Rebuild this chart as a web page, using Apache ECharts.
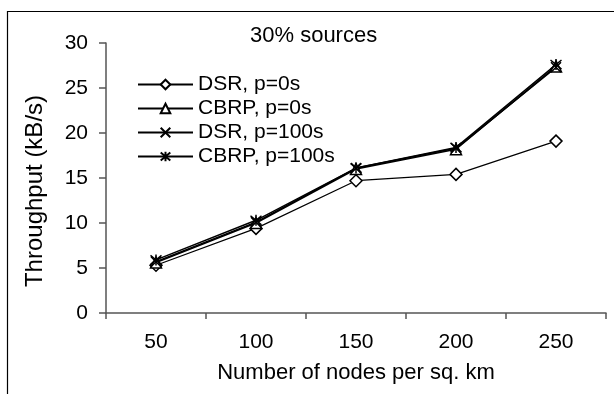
<!DOCTYPE html>
<html>
<head>
<meta charset="utf-8">
<script src="https://cdn.jsdelivr.net/npm/echarts@6/dist/echarts.min.js"></script>
<style>html,body{margin:0;padding:0;background:#fff}#c{width:614px;height:394px}</style>
</head>
<body>
<div id="c"></div>
<script>
var categories = ['50', '100', '150', '200', '250'];
var dsrP0 = [5.3, 9.4, 14.7, 15.4, 19.1];
var cbrpP0 = [5.6, 10.0, 16.0, 18.2, 27.4];
var dsrP100 = [5.7, 10.1, 16.1, 18.3, 27.3];
var cbrpP100 = [5.9, 10.3, 16.1, 18.4, 27.6];
var seriesNames = ['DSR, p=0s', 'CBRP, p=0s', 'DSR, p=100s', 'CBRP, p=100s'];
var titleText = '30% sources';
var xName = 'Number of nodes per sq. km';
var yName = 'Throughput (kB/s)';

var FONT = '"Liberation Sans", Arial, sans-serif';
var crossPath = 'path://M0,0L10,10M10,0L0,10';
var starPath = 'path://M0,0L10,10M10,0L0,10M5,-1L5,11';

function mk(name, data, symbol, size, lw) {
  return {
    name: name, type: 'line', data: data,
    symbol: symbol, symbolSize: size,
    lineStyle: {color: '#000', width: lw},
    itemStyle: {color: '#fff', borderColor: '#000', borderWidth: 1.5},
    emphasis: {disabled: true},
    animation: false
  };
}

var chart = echarts.init(document.getElementById('c'), null, {renderer: 'canvas'});
chart.setOption({
  backgroundColor: '#fff',
  animation: false,
  textStyle: {fontFamily: FONT, color: '#000'},
  graphic: [{
    type: 'rect', left: 5, top: 9, silent: true,
    shape: {width: 700, height: 500},
    style: {fill: 'none', stroke: '#000', lineWidth: 1.2}
  }],
  title: {
    text: titleText, left: 250, top: 25, padding: 0,
    textStyle: {fontFamily: FONT, fontSize: 22, fontWeight: 'normal', color: '#000'}
  },
  legend: {
    orient: 'vertical', left: 137, top: 74, padding: 0,
    itemWidth: 55, itemHeight: 12, itemGap: 3,
    data: seriesNames,
    textStyle: {fontFamily: FONT, fontSize: 21, color: '#000', padding: [0, 0, 0, 0]}
  },
  grid: {left: 106, right: 8, top: 43, bottom: 81, containLabel: false},
  xAxis: {
    type: 'category', data: categories, boundaryGap: true,
    name: xName, nameLocation: 'middle', nameGap: 49,
    nameTextStyle: {fontFamily: FONT, fontSize: 22, color: '#000'},
    axisLine: {lineStyle: {color: '#555', width: 1.5}},
    axisTick: {show: true, alignWithLabel: false, length: 6, lineStyle: {color: '#555', width: 1.5}},
    axisLabel: {fontFamily: FONT, fontSize: 21, color: '#000', margin: 19},
    splitLine: {show: false}
  },
  yAxis: {
    type: 'value', min: 0, max: 30, interval: 5,
    name: yName, nameLocation: 'middle', nameGap: 59, nameRotate: 90,
    nameTextStyle: {fontFamily: FONT, fontSize: 24, color: '#000', padding: [0, 26, 0, 0]},
    axisLine: {show: true, lineStyle: {color: '#555', width: 1.5}},
    axisTick: {show: true, length: 7, lineStyle: {color: '#555', width: 1.5}},
    axisLabel: {fontFamily: FONT, fontSize: 21, color: '#000', margin: 18},
    splitLine: {show: false}
  },
  series: [
    mk(seriesNames[0], dsrP0, 'diamond', 12, 1.2),
    mk(seriesNames[1], cbrpP0, 'triangle', 11, 1.5),
    mk(seriesNames[2], dsrP100, crossPath, 10, 1.5),
    mk(seriesNames[3], cbrpP100, starPath, 11, 1.5)
  ]
});
</script>
</body>
</html>
